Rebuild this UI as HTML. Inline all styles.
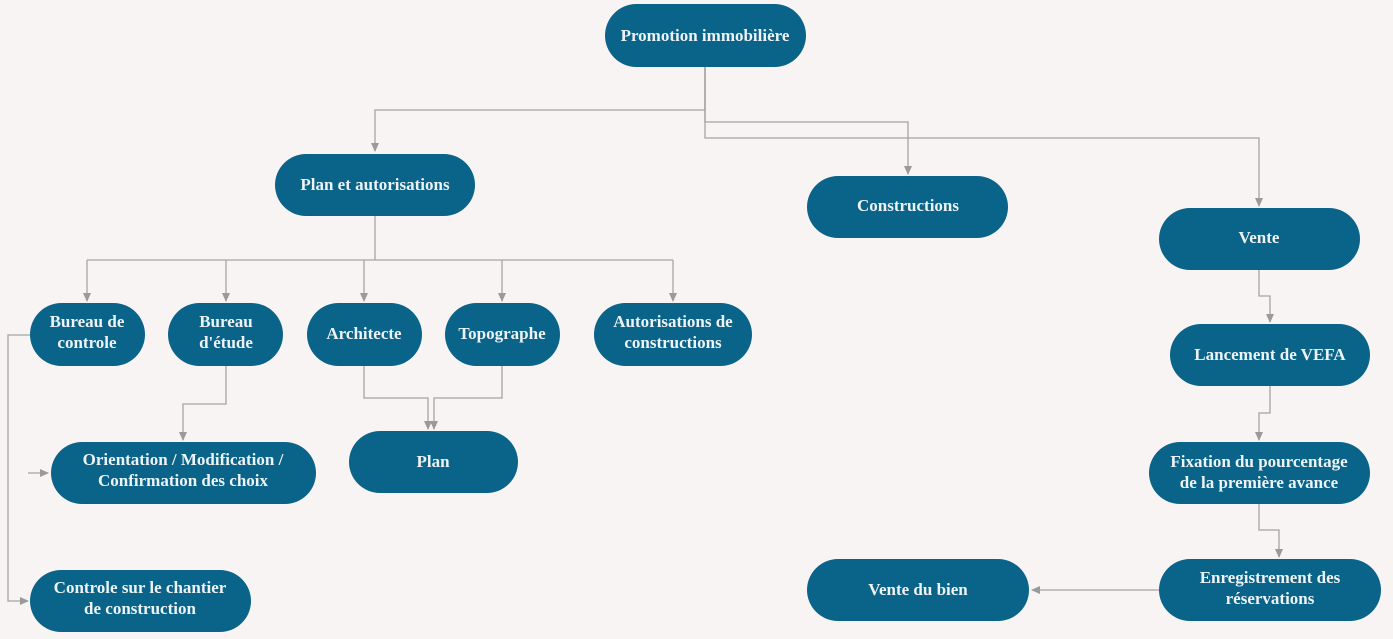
<!DOCTYPE html>
<html><head><meta charset="utf-8"><style>
body{margin:0;background:#f9f4f4;}
svg{display:block}
text{font-family:"Liberation Serif",serif;font-weight:bold;font-size:17px;fill:#eef3f6;text-anchor:middle}
</style></head><body>
<svg width="1393" height="639" viewBox="0 0 1393 639" xmlns="http://www.w3.org/2000/svg">
<defs><marker id="a" markerWidth="10" markerHeight="10" refX="8" refY="4" orient="auto" markerUnits="userSpaceOnUse"><path d="M0,0 L9,4 L0,8 z" fill="#9a9a9a"/></marker></defs>
<g fill="none" stroke="#a3a3a3" stroke-width="1.3">
<path d="M705,67 V110 H375 V151" marker-end="url(#a)"/>
<path d="M705,67 V122 H908 V174" marker-end="url(#a)"/>
<path d="M705,67 V138 H1259 V206" marker-end="url(#a)"/>
<path d="M375,216 V260"/>
<path d="M87,260 H673"/>
<path d="M87,260 V301" marker-end="url(#a)"/>
<path d="M226,260 V301" marker-end="url(#a)"/>
<path d="M364,260 V301" marker-end="url(#a)"/>
<path d="M502,260 V301" marker-end="url(#a)"/>
<path d="M673,260 V301" marker-end="url(#a)"/>
<path d="M30,335 H8 V601 H28" marker-end="url(#a)"/>
<path d="M28,473 H48" marker-end="url(#a)"/>
<path d="M226,366 V404 H183 V440" marker-end="url(#a)"/>
<path d="M364,366 V398 H428 V429" marker-end="url(#a)"/>
<path d="M502,366 V398 H434 V429" marker-end="url(#a)"/>
<path d="M1259,270 V296 H1270 V322" marker-end="url(#a)"/>
<path d="M1270,386 V413 H1259 V440" marker-end="url(#a)"/>
<path d="M1259,504 V530 H1279 V557" marker-end="url(#a)"/>
<path d="M1159,590 H1032" marker-end="url(#a)"/>
</g>
<g fill="#0a6388">
<rect x="605" y="4" width="201" height="63" rx="31.5"/>
<rect x="275" y="154" width="200" height="62" rx="31"/>
<rect x="807" y="176" width="201" height="62" rx="31"/>
<rect x="1159" y="208" width="201" height="62" rx="31"/>
<rect x="30" y="303" width="115" height="63" rx="31.5"/>
<rect x="168" y="303" width="115" height="63" rx="31.5"/>
<rect x="307" y="303" width="115" height="63" rx="31.5"/>
<rect x="445" y="303" width="115" height="63" rx="31.5"/>
<rect x="594" y="303" width="158" height="63" rx="31.5"/>
<rect x="51" y="442" width="265" height="62" rx="31"/>
<rect x="349" y="431" width="169" height="62" rx="31"/>
<rect x="30" y="570" width="221" height="62" rx="31"/>
<rect x="1170" y="324" width="200" height="62" rx="31"/>
<rect x="1149" y="442" width="221" height="62" rx="31"/>
<rect x="1159" y="559" width="222" height="62" rx="31"/>
<rect x="807" y="559" width="222" height="62" rx="31"/>
</g>
<text x="705" y="41">Promotion immobilière</text>
<text x="375" y="190">Plan et autorisations</text>
<text x="908" y="211">Constructions</text>
<text x="1259" y="243">Vente</text>
<text x="87" y="327">Bureau de</text><text x="87" y="348">controle</text>
<text x="226" y="327">Bureau</text><text x="226" y="348">d'étude</text>
<text x="364" y="339">Architecte</text>
<text x="502" y="339">Topographe</text>
<text x="673" y="327">Autorisations de</text><text x="673" y="348">constructions</text>
<text x="183" y="465">Orientation / Modification /</text><text x="183" y="486">Confirmation des choix</text>
<text x="433" y="467">Plan</text>
<text x="140" y="593">Controle sur le chantier</text><text x="140" y="614">de construction</text>
<text x="1270" y="360">Lancement de VEFA</text>
<text x="1259" y="467">Fixation du pourcentage</text><text x="1259" y="488">de la première avance</text>
<text x="1270" y="583">Enregistrement des</text><text x="1270" y="604">réservations</text>
<text x="918" y="595">Vente du bien</text>
</svg>
</body></html>
